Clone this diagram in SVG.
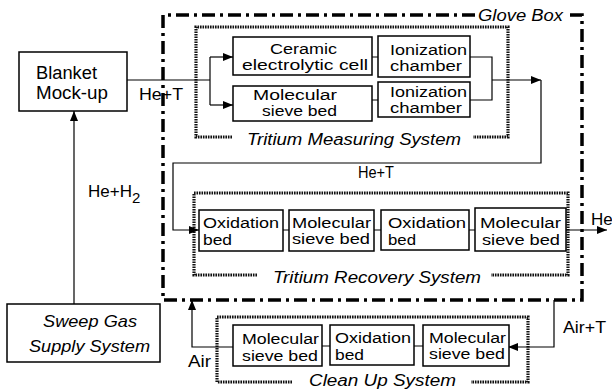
<svg xmlns="http://www.w3.org/2000/svg" width="612" height="389" viewBox="0 0 612 389">
<style>
text{font-family:"Liberation Sans",Arial,sans-serif;fill:#000}
.bx{font-size:14px}
.it{font-style:italic;font-size:16px}
.box{fill:#fff;stroke:#000;stroke-width:1.5}
.ln{fill:none;stroke:#000;stroke-width:1.2}
.gb{fill:none;stroke:#000;stroke-width:3.5;stroke-dasharray:13 5 3 5}
.hz{fill:none;stroke:#111;stroke-width:3.2;stroke-dasharray:1.6 0.9}
</style>
<defs>
<marker id="ah" markerWidth="10" markerHeight="8" refX="10" refY="4" orient="auto" markerUnits="userSpaceOnUse">
<path d="M0,0 L10,4 L0,8 Z" fill="#000"/>
</marker>
</defs>
<rect width="612" height="389" fill="#fff"/>

<g id="glove-box">
<path class="gb" d="M475,15 H163 V300 H582 V15 H565"/>
<text class="it" x="478" y="21" textLength="85" lengthAdjust="spacingAndGlyphs">Glove Box</text>
</g>

<g id="tritium-measuring-system">
<path class="hz" d="M232,137 H196 V27 H508 V137 H473"/>
<text class="it" x="247" y="145" textLength="214" lengthAdjust="spacingAndGlyphs">Tritium Measuring System</text>
</g>

<g id="tritium-recovery-system">
<path class="hz" d="M257,275 H194 V193 H568 V275 H491"/>
<text class="it" x="273" y="283" textLength="208" lengthAdjust="spacingAndGlyphs">Tritium Recovery System</text>
</g>

<g id="clean-up-system">
<path class="hz" d="M292,382 H217 V317 H528 V382 H471"/>
<text class="it" x="309" y="386" textLength="147" lengthAdjust="spacingAndGlyphs">Clean Up System</text>
</g>

<g id="connectors">
<path class="ln" d="M127,80 H210"/>
<path class="ln" d="M210,57 V105"/>
<path class="ln" d="M210,57 H233" marker-end="url(#ah)"/>
<path class="ln" d="M210,105 H233" marker-end="url(#ah)"/>
<path class="ln" d="M372,57 H378 M372,100 H378"/>
<path class="ln" d="M470,57 H492 V100 H470"/>
<path class="ln" d="M492,80 H541" marker-end="url(#ah)"/>
<path class="ln" d="M541,80 V163 H173 V230 H199" marker-end="url(#ah)"/>
<path class="ln" d="M283,230 H289 M374,230 H381 M469,230 H475"/>
<path class="ln" d="M566,230 H607" marker-end="url(#ah)"/>
<path class="ln" d="M554,300 V347 H508" marker-end="url(#ah)"/>
<path class="ln" d="M322,346 H330 M414,346 H423"/>
<path class="ln" d="M233,347 H192 V300" marker-end="url(#ah)"/>
<path class="ln" d="M74,304 V111" marker-end="url(#ah)"/>
<text x="139" y="100" font-size="17" textLength="44" lengthAdjust="spacingAndGlyphs">He+T</text>
<text x="358" y="178" font-size="16" textLength="36" lengthAdjust="spacingAndGlyphs">He+T</text>
<text x="591" y="225" font-size="17">He</text>
<text x="88" y="197" font-size="17">He+H<tspan font-size="15" dy="6">2</tspan></text>
<text x="188" y="367" font-size="16" textLength="23" lengthAdjust="spacingAndGlyphs">Air</text>
<text x="563" y="333" font-size="16" textLength="43" lengthAdjust="spacingAndGlyphs">Air+T</text>
</g>

<g id="blanket-mock-up">
<rect class="box" x="19" y="52" width="108" height="59"/>
<text x="36" y="79" font-size="18" textLength="61" lengthAdjust="spacingAndGlyphs">Blanket</text>
<text x="36" y="99" font-size="18" textLength="72" lengthAdjust="spacingAndGlyphs">Mock-up</text>
</g>

<g id="sweep-gas-supply-system">
<rect class="box" x="7" y="304" width="153" height="58"/>
<text x="43" y="327" font-style="italic" font-size="17" textLength="94" lengthAdjust="spacingAndGlyphs">Sweep Gas</text>
<text x="29" y="352" font-style="italic" font-size="17" textLength="121" lengthAdjust="spacingAndGlyphs">Supply System</text>
</g>

<g id="ceramic-electrolytic-cell">
<rect class="box" x="233" y="37" width="139" height="38"/>
<text class="bx" x="270" y="54" textLength="67" lengthAdjust="spacingAndGlyphs">Ceramic</text>
<text class="bx" x="242" y="70" textLength="126" lengthAdjust="spacingAndGlyphs">electrolytic cell</text>
</g>

<g id="molecular-sieve-bed-m">
<rect class="box" x="233" y="86" width="139" height="35"/>
<text class="bx" x="253" y="100" textLength="84" lengthAdjust="spacingAndGlyphs">Molecular</text>
<text class="bx" x="262" y="116" textLength="75" lengthAdjust="spacingAndGlyphs">sieve bed</text>
</g>

<g id="ionization-chamber-1">
<rect class="box" x="378" y="36" width="92" height="41"/>
<text class="bx" x="390" y="55" textLength="77" lengthAdjust="spacingAndGlyphs">Ionization</text>
<text class="bx" x="390" y="71" textLength="72" lengthAdjust="spacingAndGlyphs">chamber</text>
</g>

<g id="ionization-chamber-2">
<rect class="box" x="378" y="82" width="92" height="35"/>
<text class="bx" x="390" y="97" textLength="77" lengthAdjust="spacingAndGlyphs">Ionization</text>
<text class="bx" x="390" y="113" textLength="72" lengthAdjust="spacingAndGlyphs">chamber</text>
</g>

<g id="oxidation-bed-r1">
<rect class="box" x="199" y="210" width="84" height="41"/>
<text class="bx" x="203" y="228" textLength="76" lengthAdjust="spacingAndGlyphs">Oxidation</text>
<text class="bx" x="203" y="245" textLength="29" lengthAdjust="spacingAndGlyphs">bed</text>
</g>

<g id="molecular-sieve-bed-r1">
<rect class="box" x="289" y="210" width="85" height="41"/>
<text class="bx" x="292" y="228" textLength="79" lengthAdjust="spacingAndGlyphs">Molecular</text>
<text class="bx" x="292" y="244" textLength="78" lengthAdjust="spacingAndGlyphs">sieve bed</text>
</g>

<g id="oxidation-bed-r2">
<rect class="box" x="381" y="210" width="88" height="40"/>
<text class="bx" x="388" y="228" textLength="78" lengthAdjust="spacingAndGlyphs">Oxidation</text>
<text class="bx" x="388" y="245" textLength="28" lengthAdjust="spacingAndGlyphs">bed</text>
</g>

<g id="molecular-sieve-bed-r2">
<rect class="box" x="475" y="208" width="91" height="43"/>
<text class="bx" x="480" y="228" textLength="81" lengthAdjust="spacingAndGlyphs">Molecular</text>
<text class="bx" x="482" y="245" textLength="78" lengthAdjust="spacingAndGlyphs">sieve bed</text>
</g>

<g id="molecular-sieve-bed-c1">
<rect class="box" x="233" y="325" width="89" height="41"/>
<text class="bx" x="242" y="344" textLength="77" lengthAdjust="spacingAndGlyphs">Molecular</text>
<text class="bx" x="242" y="361" textLength="76" lengthAdjust="spacingAndGlyphs">sieve bed</text>
</g>

<g id="oxidation-bed-c">
<rect class="box" x="330" y="325" width="84" height="40"/>
<text class="bx" x="335" y="343" textLength="76" lengthAdjust="spacingAndGlyphs">Oxidation</text>
<text class="bx" x="335" y="360" textLength="29" lengthAdjust="spacingAndGlyphs">bed</text>
</g>

<g id="molecular-sieve-bed-c2">
<rect class="box" x="423" y="325" width="86" height="41"/>
<text class="bx" x="429" y="343" textLength="77" lengthAdjust="spacingAndGlyphs">Molecular</text>
<text class="bx" x="429" y="359" textLength="76" lengthAdjust="spacingAndGlyphs">sieve bed</text>
</g>
</svg>
